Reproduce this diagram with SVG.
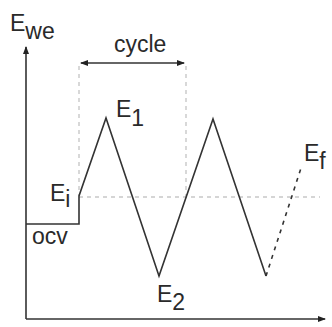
<svg xmlns="http://www.w3.org/2000/svg" width="332" height="327" viewBox="0 0 332 327">
<style>
.ax{fill:none;stroke:#333;stroke-width:1.6}
.wave{fill:none;stroke:#333;stroke-width:1.6;stroke-linejoin:miter}
.guide{fill:none;stroke:#c8c8c8;stroke-width:1.4;stroke-dasharray:4,4}
.dot{fill:none;stroke:#333;stroke-width:1.6;stroke-dasharray:4,5}
text{font-family:"Liberation Sans",Arial,sans-serif;font-size:23px;fill:#2a2a2a}
</style>
<defs>
<marker id="ah" markerWidth="8" markerHeight="8" refX="7" refY="4" orient="auto-start-reverse" markerUnits="userSpaceOnUse">
<path d="M0,1 L8,4 L0,7 Z" fill="#222"/>
</marker>
</defs>
<g id="connectors">
<path class="ax" d="M26,319 V47" marker-end="url(#ah)"/>
<path class="ax" d="M26,319 H325" marker-end="url(#ah)"/>
<path class="guide" d="M79,197 H320"/>
<path class="guide" d="M79,66 V196"/>
<path class="guide" d="M186,66 V197"/>
<path class="ax" d="M81,63 H184" marker-start="url(#ah)" marker-end="url(#ah)"/>
<path class="wave" d="M26,224 H79 V196 L106,118 L159,276 L213,119 L266,276"/>
<path class="dot" d="M266,276 L302,165"/>
</g>
<g id="label-ewe"><text x="10" y="31">E<tspan dy="8">we</tspan></text></g>
<g id="label-cycle"><text x="114" y="52" font-size="20">cycle</text></g>
<g id="label-e1"><text x="116" y="117">E<tspan dy="9">1</tspan></text></g>
<g id="label-ei"><text x="50" y="201">E<tspan dy="6">i</tspan></text></g>
<g id="label-ocv"><text x="32" y="244">ocv</text></g>
<g id="label-e2"><text x="157" y="302">E<tspan dy="8">2</tspan></text></g>
<g id="label-ef"><text x="304" y="161">E<tspan dy="8">f</tspan></text></g>
</svg>
